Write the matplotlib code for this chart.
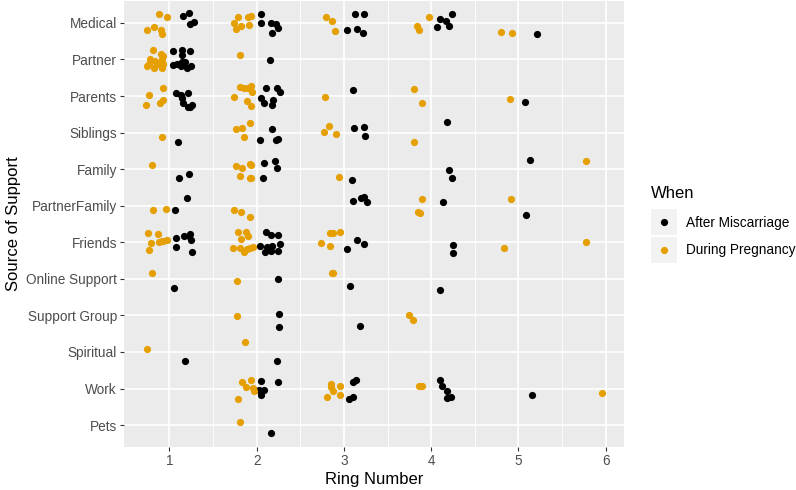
"""Jittered strip chart: source of support by ring number
"""
import matplotlib
matplotlib.use('Agg')
import matplotlib.pyplot as plt
from matplotlib.patches import Rectangle

from typing import Dict, List

plt.rcParams['font.family'] = ['Liberation Sans', 'DejaVu Sans']

# Categories, top to bottom
sources: List[str] = [
    'Medical', 'Partner', 'Parents', 'Siblings', 'Family', 'PartnerFamily',
    'Friends', 'Online Support', 'Support Group', 'Spiritual', 'Work', 'Pets',
]
x_ticks: List[int] = [1, 2, 3, 4, 5, 6]

# After Miscarriage: source, ring number (jittered), vertical jitter
after_src: List[str] = (
    ['Medical'] * 21 + ['Partner'] * 12 + ['Parents'] * 17 + ['Siblings'] * 9
    + ['Family'] * 10 + ['PartnerFamily'] * 8 + ['Friends'] * 22
    + ['Online Support'] * 4 + ['Support Group'] * 3 + ['Spiritual'] * 2
    + ['Work'] * 15 + ['Pets'] * 1
)
after_x: List[float] = [
    # Medical
    1.16, 1.23, 1.24, 1.28, 2.05, 2.05, 2.16, 2.22, 2.24, 2.18,
    3.13, 3.23, 3.04, 3.15, 3.22, 4.10, 4.24, 4.17, 4.07, 4.21, 5.21,
    # Partner
    1.04, 1.15, 1.24, 1.15, 1.04, 1.09, 1.15, 1.13, 1.20, 1.25, 1.18, 2.15,
    # Parents
    1.08, 1.13, 1.21, 1.14, 1.16, 1.24, 1.21, 1.26,
    2.11, 2.23, 2.27, 2.05, 2.19, 2.09, 2.18, 3.10, 5.08,
    # Siblings
    1.10, 2.18, 2.04, 2.22, 2.24, 3.12, 3.23, 3.24, 4.18,
    # Family
    1.23, 1.11, 2.08, 2.21, 2.23, 2.07, 3.09, 4.21, 4.24, 5.13,
    # PartnerFamily
    1.06, 1.20, 3.10, 3.23, 3.20, 3.27, 4.14, 5.09,
    # Friends
    1.08, 1.17, 1.24, 1.25, 1.08, 1.26, 1.22,
    2.11, 2.16, 2.25, 2.04, 2.12, 2.18, 2.27, 2.10, 2.17, 2.25,
    3.15, 3.23, 3.04, 4.25, 4.25,
    # Online Support
    1.05, 2.25, 3.07, 4.10,
    # Support Group
    2.26, 2.26, 3.19,
    # Spiritual
    1.18, 2.23,
    # Work
    2.05, 2.25, 2.03, 2.08, 2.05, 3.11, 3.14, 3.06, 3.11,
    4.10, 4.12, 4.18, 4.18, 4.23, 5.16,
    # Pets
    2.17,
]
after_dy: List[float] = [
    0.19, 0.28, -0.04, 0.03, 0.24, 0.01, -0.01, -0.02, -0.13, -0.28,
    0.25, 0.25, -0.20, -0.16, -0.28, 0.12, 0.24, 0.04, -0.10, -0.08, -0.31,
    0.23, 0.26, 0.23, 0.13, -0.16, -0.13, -0.08, -0.17, -0.22, -0.17, -0.08, -0.01,
    0.07, 0.02, 0.08, -0.04, -0.20, -0.29, -0.31, -0.25,
    0.23, 0.22, 0.10, -0.04, -0.11, -0.20, -0.25, 0.17, -0.15,
    -0.26, 0.11, -0.20, -0.20, -0.18, 0.12, 0.14, -0.09, 0.29,
    -0.14, -0.24, 0.16, 0.21, 0.03, -0.24, -0.30, -0.01, -0.23, 0.26,
    -0.11, 0.21, 0.14, 0.25, 0.20, 0.09, 0.10, -0.25,
    0.11, 0.16, 0.24, 0.07, -0.12, -0.27, 0.18,
    0.29, 0.20, 0.20, -0.10, -0.14, -0.10, -0.06, -0.26, -0.23, -0.23,
    0.07, -0.05, -0.19, -0.07, -0.30,
    -0.26, 0.00, -0.20, -0.30,
    0.05, -0.31, -0.28,
    -0.24, -0.25,
    0.20, 0.18, -0.05, -0.04, -0.19, 0.17, 0.24, -0.30, -0.24,
    0.24, 0.07, -0.07, -0.25, -0.22, -0.17,
    -0.23,
]

# During Pregnancy
during_src: List[str] = (
    ['Medical'] * 21 + ['Partner'] * 13 + ['Parents'] * 17 + ['Siblings'] * 9
    + ['Family'] * 10 + ['PartnerFamily'] * 9 + ['Friends'] * 25
    + ['Online Support'] * 4 + ['Support Group'] * 3 + ['Spiritual'] * 2
    + ['Work'] * 15 + ['Pets'] * 1
)
during_x: List[float] = [
    # Medical
    0.88, 0.97, 0.74, 0.82, 0.90, 0.92,
    1.79, 1.90, 1.94, 1.74, 1.82, 1.91, 1.76,
    2.80, 2.86, 2.90, 3.97, 3.84, 3.86, 4.80, 4.93,
    # Partner
    0.81, 0.90, 0.93, 0.78, 0.84, 0.92, 0.74, 0.77, 0.82, 0.88, 0.92, 0.93, 1.81,
    # Parents
    0.93, 0.77, 0.93, 0.89, 0.73,
    1.81, 1.86, 1.94, 1.95, 1.74, 1.89, 1.94, 1.90,
    2.78, 3.80, 3.90, 4.90,
    # Siblings
    0.92, 1.76, 1.83, 1.92, 1.85, 2.83, 2.77, 2.91, 3.80,
    # Family
    0.80, 1.76, 1.83, 1.92, 1.93, 1.81, 1.92, 1.93, 2.94, 5.78,
    # PartnerFamily
    0.81, 0.96, 1.74, 1.82, 1.92, 3.89, 3.85, 3.87, 4.91,
    # Friends
    0.76, 0.87, 0.79, 0.77, 0.88, 0.93, 0.97, 0.92,
    1.79, 1.88, 1.90, 1.82, 1.73, 1.81, 1.85, 1.89, 1.96, 1.92,
    2.84, 2.88, 2.95, 2.74, 2.84, 4.84, 5.78,
    # Online Support
    0.80, 1.77, 2.86, 2.88,
    # Support Group
    1.77, 3.75, 3.79,
    # Spiritual
    0.74, 1.87,
    # Work
    1.83, 1.94, 1.88, 1.96, 1.97, 1.79,
    2.85, 2.85, 2.95, 2.88, 2.81, 2.96, 3.86, 3.89, 5.96,
    # Pets
    1.81,
]
during_dy: List[float] = [
    0.25, 0.17, -0.20, -0.10, -0.19, -0.31,
    0.17, 0.17, 0.20, 0.00, -0.08, -0.05, -0.17,
    0.17, 0.05, -0.22, 0.17, -0.08, -0.20, -0.24, -0.28,
    0.25, 0.14, 0.10, 0.01, -0.04, 0.01, -0.17, -0.11, -0.22, -0.13, -0.22, -0.11, 0.13,
    0.23, 0.03, -0.11, -0.20, -0.24,
    0.25, 0.22, 0.27, 0.11, -0.02, -0.13, -0.28, 0.22,
    -0.02, 0.19, -0.19, -0.08,
    -0.11, 0.10, 0.12, 0.25, -0.11, 0.18, 0.02, -0.05, -0.27,
    0.11, 0.09, 0.03, 0.14, 0.12, -0.19, -0.24, -0.25, -0.21, 0.22,
    -0.11, -0.10, -0.12, -0.17, -0.30, 0.18, -0.16, -0.20, 0.18,
    0.25, 0.22, -0.01, -0.22, 0.02, 0.04, 0.06, 0.04,
    0.29, 0.29, 0.18, 0.08, -0.15, -0.16, -0.27, -0.19, -0.14, -0.17,
    0.25, 0.25, 0.29, -0.02, -0.10, -0.15, 0.02,
    0.15, -0.07, 0.15, 0.15,
    -0.01, 0.00, -0.12,
    0.07, 0.26,
    0.18, 0.22, 0.05, 0.02, -0.08, -0.29,
    0.13, 0.05, 0.07, -0.08, -0.23, -0.18, 0.07, 0.07, -0.13,
    0.09,
]

when_labels: List[str] = ['After Miscarriage', 'During Pregnancy']
when_colors: List[str] = ['#000000', '#E69F00']


def _positions(src: List[str], dy: List[float]) -> List[float]:
    """Map category names to y positions (top category highest) plus jitter."""
    pos: Dict[str, int] = {s: len(sources) - i for i, s in enumerate(sources)}
    return [pos[s] + d for s, d in zip(src, dy)]


W, H = 796, 490
fig = plt.figure(figsize=(W / 100, H / 100), dpi=100)
ax = fig.add_axes([124 / W, 1 - 447 / H, 500 / W, 446 / H])
ax.set_facecolor('#EBEBEB')

# ggplot-like grid
for v in [1.5, 2.5, 3.5, 4.5, 5.5]:
    ax.axvline(v, color='white', lw=0.6, zorder=0)
for v in x_ticks:
    ax.axvline(v, color='white', lw=1.2, zorder=0)
for v in range(1, len(sources) + 1):
    ax.axhline(v, color='white', lw=1.2, zorder=0)

ax.scatter(after_x, _positions(after_src, after_dy), s=27,
           color=when_colors[0], linewidths=0, zorder=3)
ax.scatter(during_x, _positions(during_src, during_dy), s=27,
           color=when_colors[1], linewidths=0, zorder=3)

ax.set_xlim(0.48, 6.21)
ax.set_ylim(0.4, 12.6)
ax.set_xticks(x_ticks)
ax.set_xticklabels([str(t) for t in x_ticks])
ax.set_yticks(range(len(sources), 0, -1))
ax.set_yticklabels(sources)
ax.tick_params(axis='both', colors='#333333', labelcolor='#4D4D4D',
               labelsize=9.8, length=3, width=0.8, pad=2)
for side in ax.spines.values():
    side.set_visible(False)

ax.set_xlabel('Ring Number', fontsize=12, color='black', labelpad=3)
ax.set_ylabel('Source of Support', fontsize=12, color='black', labelpad=4)

# Legend, drawn ggplot style with grey key boxes
fig.text(651 / W, 1 - 193 / H, 'When', fontsize=12, va='center', ha='left')
for i, (lab, col) in enumerate(zip(when_labels, when_colors)):
    yc = 222.5 + i * 27.5
    fig.patches.append(Rectangle(
        (651 / W, 1 - (yc + 13) / H), 26 / W, 26 / H,
        transform=fig.transFigure, facecolor='#F2F2F2', edgecolor='none',
    ))
    fig.add_artist(plt.Line2D(
        [664 / W], [1 - yc / H], transform=fig.transFigure, marker='o',
        markersize=5.2, markerfacecolor=col, markeredgewidth=0, linestyle='none',
    ))
    fig.text(686 / W, 1 - yc / H, lab, fontsize=9.8, va='center', ha='left')

fig.savefig('out.png', dpi=100)
